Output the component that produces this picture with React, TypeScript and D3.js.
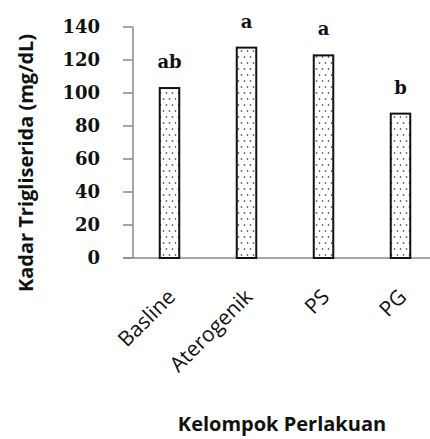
import React from "react";
import * as d3 from "d3";

const categories = ["Basline", "Aterogenik", "PS", "PG"];
const values = [103, 127.5, 122.8, 87.5];
const letters = ["ab", "a", "a", "b"];
const yTicks = [0, 20, 40, 60, 80, 100, 120, 140];

export default function App() {
  const W = 430, H = 439;
  const axisX = 133;
  const x = d3.scaleBand<string>().domain(categories).range([132, 440]).padding(0);
  const y = d3.scaleLinear().domain([0, 140]).range([258, 27]);
  const barW = 19.5;
  return (
    <svg width={W} height={H} style={{ position: "absolute", left: 0, top: 0, background: "#fff" }}>
      <defs>
        <pattern id="dots" patternUnits="userSpaceOnUse" width="6" height="12">
          <rect width="6" height="12" fill="#fff" />
          <circle cx="1.5" cy="3" r="0.8" fill="#222" />
          <circle cx="4.5" cy="9" r="0.8" fill="#222" />
        </pattern>
      </defs>
      {/* y axis */}
      <line x1={axisX} x2={axisX} y1={y(140)} y2={y(0)} stroke="#8a8a8a" strokeWidth={1.5} />
      {yTicks.map((t) => (
        <g key={t}>
          <line x1={axisX - 10} x2={axisX} y1={y(t)} y2={y(t)} stroke="#8a8a8a" strokeWidth={1.5} />
          <text x={100} y={y(t)} dy="0.36em" textAnchor="end" fontFamily="DejaVu Serif" fontWeight="bold" fontSize={18} fill="#111">
            {t}
          </text>
        </g>
      ))}
      {/* x axis */}
      <line x1={123} x2={W} y1={y(0)} y2={y(0)} stroke="#8a8a8a" strokeWidth={1.5} />
      {categories.map((c, i) => {
        const cx = (x(c) as number) + x.bandwidth() / 2 - 1;
        return (
          <g key={c}>
            <rect x={cx - barW / 2} y={y(values[i])} width={barW} height={y(0) - y(values[i])}
              fill="url(#dots)" stroke="#111" strokeWidth={2} />
            <text x={cx} y={y(values[i]) - 20} textAnchor="middle" fontFamily="DejaVu Serif" fontWeight="bold" fontSize={18} fill="#111">
              {letters[i]}
            </text>
            <text transform={`translate(${cx + 2},${293}) rotate(-45)`} textAnchor="end" dy="0.35em"
              fontFamily="Open Sans" fontSize={21} fill="#111">
              {c}
            </text>
          </g>
        );
      })}
      <text transform={`translate(33,${163}) rotate(-90)`} textAnchor="middle" fontFamily="Open Sans"
        fontWeight="bold" fontSize={20} fill="#111">
        Kadar Trigliserida (mg/dL)
      </text>
      <text x={282} y={431} textAnchor="middle" fontFamily="Open Sans" fontWeight="bold" fontSize={20} fill="#111">
        Kelompok Perlakuan
      </text>
    </svg>
  );
}
